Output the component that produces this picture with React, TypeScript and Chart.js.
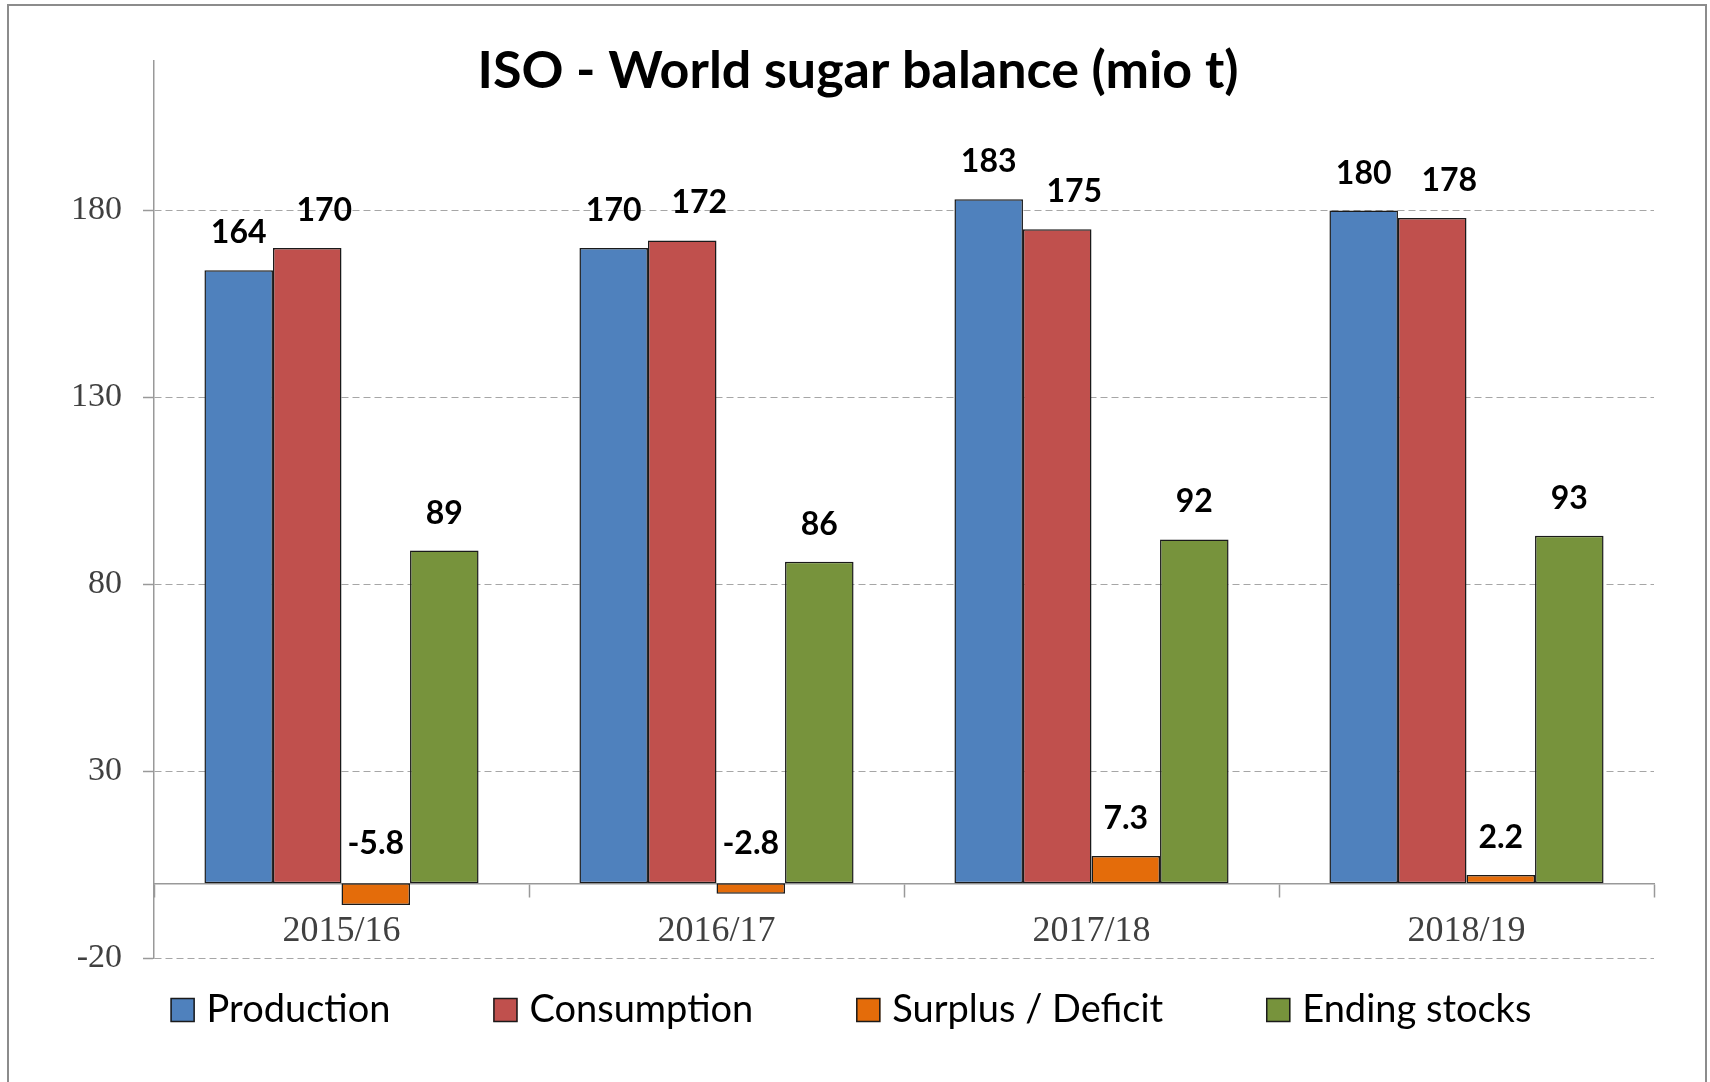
import React, { useEffect, useRef } from "react";
import { Chart, registerables } from "chart.js";

Chart.register(...registerables);

// ---- data ----
const seasons = ["2015/16", "2016/17", "2017/18", "2018/19"];
const production = [164, 170, 183, 180];
const consumption = [170, 172, 175, 178];
const surplusDeficit = [-5.8, -2.8, 7.3, 2.2];
const endingStocks = [89, 86, 92, 93];
const yTickValues = [-20, 30, 80, 130, 180];
const seriesNames = ["Production", "Consumption", "Surplus / Deficit", "Ending stocks"];
const seriesColors = ["#4F81BD", "#C0504D", "#E46C0A", "#77933C"];
const chartTitle = "ISO - World sugar balance (mio t)";

const SANS = "Lato, Carlito, 'Open Sans', sans-serif";
const SERIF = "'Liberation Serif', 'DejaVu Serif', serif";

// Title drawn over the top of the plot area
const titlePlugin = {
  id: "sugarTitle",
  afterDraw(chart: any) {
    const ctx = chart.ctx;
    ctx.save();
    ctx.font = `bold 52px ${SANS}`;
    ctx.fillStyle = "#000";
    ctx.textAlign = "center";
    ctx.textBaseline = "alphabetic";
    ctx.fillText(chartTitle, chart.width / 2 + 3, 88);
    ctx.restore();
  },
};

// Value labels above each bar
const valueLabelPlugin = {
  id: "sugarValueLabels",
  afterDatasetsDraw(chart: any) {
    const ctx = chart.ctx;
    const zeroY = chart.scales.y.getPixelForValue(0);
    ctx.save();
    ctx.font = `bold 32px ${SANS}`;
    ctx.fillStyle = "#000";
    ctx.textAlign = "center";
    ctx.textBaseline = "alphabetic";
    chart.data.datasets.forEach((ds: any, di: number) => {
      const meta = chart.getDatasetMeta(di);
      meta.data.forEach((bar: any, i: number) => {
        const v = ds.data[i];
        const shiftX = di === 1 ? 17 : 0;
        const y = v >= 0 ? bar.y - 27 : zeroY - 29;
        ctx.fillText(String(v), bar.x + shiftX, y);
      });
    });
    ctx.restore();
  },
};

// Legend row under the plot
const legendPlugin = {
  id: "sugarLegend",
  afterDraw(chart: any) {
    const ctx = chart.ctx;
    const box = 24;
    const gap = 12;
    const spacing = 103;
    ctx.save();
    ctx.font = `38px ${SANS}`;
    const widths = seriesNames.map((n) => ctx.measureText(n).width);
    const total =
      widths.reduce((a, w) => a + box + gap + w, 0) + spacing * (seriesNames.length - 1);
    let x = chart.width / 2 - 4 - total / 2;
    const boxTop = 998;
    const baseline = 1022;
    seriesNames.forEach((name, i) => {
      ctx.fillStyle = seriesColors[i];
      ctx.fillRect(x, boxTop, box, box);
      ctx.strokeStyle = "#1a1a1a";
      ctx.lineWidth = 1.5;
      ctx.strokeRect(x + 0.5, boxTop + 0.5, box - 1, box - 1);
      ctx.fillStyle = "#000";
      ctx.textAlign = "left";
      ctx.textBaseline = "alphabetic";
      ctx.fillText(name, x + box + gap, baseline);
      x += box + gap + widths[i] + spacing;
    });
    ctx.restore();
  },
};

export default function App() {
  const canvasRef = useRef<HTMLCanvasElement | null>(null);

  useEffect(() => {
    const canvas = canvasRef.current;
    if (!canvas) return;
    const series = [production, consumption, surplusDeficit, endingStocks];
    const chart = new Chart(canvas, {
      type: "bar",
      data: {
        labels: seasons,
        datasets: series.map((d, i) => ({
          label: seriesNames[i],
          data: d,
          backgroundColor: seriesColors[i],
          borderColor: "#1a1a1a",
          borderWidth: 1.5,
          borderSkipped: false,
          categoryPercentage: 0.731,
          barPercentage: 1,
        })),
      },
      options: {
        responsive: false,
        animation: false,
        devicePixelRatio: 1,
        layout: { padding: { top: 61, right: 56, bottom: 124, left: 0 } },
        plugins: {
          legend: { display: false },
          title: { display: false },
          tooltip: { enabled: false },
        },
        scales: {
          x: {
            type: "category",
            position: { y: 0 } as any,
            offset: true,
            grid: {
              display: true,
              drawOnChartArea: false,
              drawTicks: true,
              tickLength: 13,
              tickColor: "#999999",
              tickWidth: 1.5,
              offset: true,
            },
            border: { display: true, color: "#999999", width: 1.5 },
            ticks: {
              font: { family: SERIF, size: 36 },
              color: "#404040",
              padding: 14,
              maxRotation: 0,
              autoSkip: false,
            },
          },
          y: {
            type: "linear",
            min: -20,
            max: 220,
            afterBuildTicks: (scale: any) => {
              scale.ticks = yTickValues.map((v) => ({ value: v }));
            },
            afterFit: (scale: any) => {
              scale.width = 154;
            },
            grid: {
              color: "#a6a6a6",
              lineWidth: 1,
              tickLength: 11,
              tickColor: "#999999",
              tickWidth: 1.5,
            },
            border: { display: true, color: "#999999", width: 1.5, dash: [7, 4] },
            ticks: {
              font: { family: SERIF, size: 34 },
              color: "#404040",
              padding: 21,
            },
          },
        },
      },
      plugins: [titlePlugin, valueLabelPlugin, legendPlugin],
    });
    return () => chart.destroy();
  }, []);

  return (
    <div
      style={{
        position: "absolute",
        left: 0,
        top: 0,
        width: 1710,
        height: 1082,
        overflow: "hidden",
        background: "#ffffff",
      }}
    >
      <canvas
        ref={canvasRef}
        width={1710}
        height={1082}
        style={{ position: "absolute", left: 0, top: 0, width: 1710, height: 1082 }}
      />
      <div
        style={{
          position: "absolute",
          left: 7,
          top: 4,
          width: 1696,
          height: 1076,
          border: "2px solid #8c8c8c",
          borderBottom: "none",
          pointerEvents: "none",
        }}
      />
    </div>
  );
}
